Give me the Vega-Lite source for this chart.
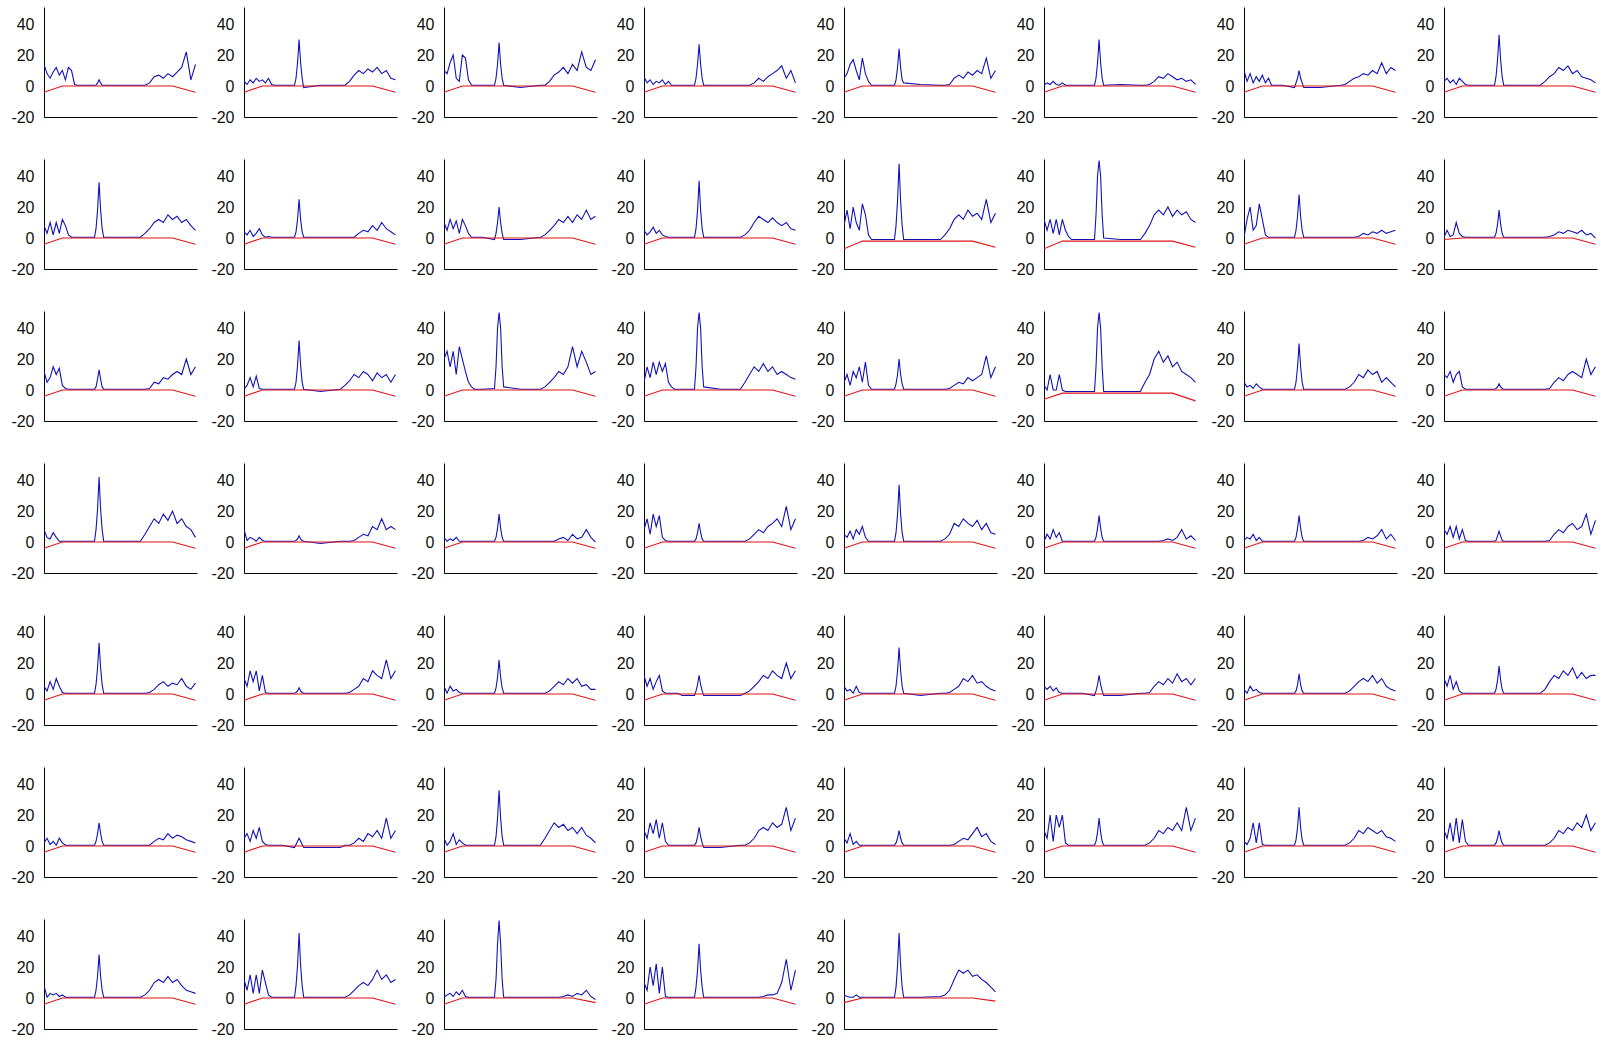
{
"$schema": "https://vega.github.io/schema/vega-lite/v6.json",
"background": "white",
"padding": {"left": 10, "top": 7, "right": 5, "bottom": 5},
"data": {"values": [
{"p":1,"x":0,"b":14,"r":-4},{"p":1,"x":2,"b":8},{"p":1,"x":4,"b":5},{"p":1,"x":6,"b":9},{"p":1,"x":8,"b":12},{"p":1,"x":10,"b":7},{"p":1,"x":12,"b":10,"r":0},{"p":1,"x":14,"b":4},{"p":1,"x":16,"b":12},{"p":1,"x":18,"b":10},{"p":1,"x":20,"b":1},{"p":1,"x":22,"b":0.5},{"p":1,"x":25,"b":0.5},{"p":1,"x":33,"b":0.5},{"p":1,"x":34,"b":0.5},{"p":1,"x":35,"b":2},{"p":1,"x":36,"b":4},{"p":1,"x":37,"b":2},{"p":1,"x":38,"b":0.5},{"p":1,"x":39,"b":0.5},{"p":1,"x":50,"b":0.5},{"p":1,"x":63,"b":0.5},{"p":1,"x":66,"b":0.5},{"p":1,"x":69,"b":2},{"p":1,"x":72,"b":6},{"p":1,"x":75,"b":7},{"p":1,"x":78,"b":5},{"p":1,"x":81,"b":8},{"p":1,"x":84,"b":6,"r":0},{"p":1,"x":87,"b":9},{"p":1,"x":90,"b":12},{"p":1,"x":93,"b":22},{"p":1,"x":96,"b":4},{"p":1,"x":99,"b":14,"r":-4},
{"p":2,"x":0,"b":3,"r":-4},{"p":2,"x":2,"b":1},{"p":2,"x":4,"b":4},{"p":2,"x":6,"b":2},{"p":2,"x":8,"b":5},{"p":2,"x":10,"b":3},{"p":2,"x":12,"b":4,"r":0},{"p":2,"x":14,"b":2},{"p":2,"x":16,"b":5},{"p":2,"x":18,"b":1},{"p":2,"x":20,"b":0.5},{"p":2,"x":22,"b":0.5},{"p":2,"x":25,"b":0.5},{"p":2,"x":33,"b":0.5},{"p":2,"x":34,"b":5},{"p":2,"x":35,"b":15},{"p":2,"x":36,"b":30},{"p":2,"x":37,"b":15},{"p":2,"x":38,"b":5},{"p":2,"x":39,"b":-1},{"p":2,"x":50,"b":0.5},{"p":2,"x":63,"b":0.5},{"p":2,"x":66,"b":0.5},{"p":2,"x":69,"b":3},{"p":2,"x":72,"b":7},{"p":2,"x":75,"b":10},{"p":2,"x":78,"b":8},{"p":2,"x":81,"b":11},{"p":2,"x":84,"b":9,"r":0},{"p":2,"x":87,"b":12},{"p":2,"x":90,"b":8},{"p":2,"x":93,"b":10},{"p":2,"x":96,"b":5},{"p":2,"x":99,"b":4,"r":-4},
{"p":3,"x":0,"b":10,"r":-4},{"p":3,"x":2,"b":8},{"p":3,"x":4,"b":15},{"p":3,"x":6,"b":20},{"p":3,"x":8,"b":5},{"p":3,"x":10,"b":3},{"p":3,"x":12,"b":20,"r":0},{"p":3,"x":14,"b":18},{"p":3,"x":16,"b":4},{"p":3,"x":18,"b":0.5},{"p":3,"x":20,"b":0.5},{"p":3,"x":22,"b":0.5},{"p":3,"x":25,"b":0.5},{"p":3,"x":33,"b":0.5},{"p":3,"x":34,"b":5},{"p":3,"x":35,"b":14},{"p":3,"x":36,"b":28},{"p":3,"x":37,"b":14},{"p":3,"x":38,"b":5},{"p":3,"x":39,"b":0.5},{"p":3,"x":50,"b":-1},{"p":3,"x":63,"b":0.5},{"p":3,"x":66,"b":0.5},{"p":3,"x":69,"b":3},{"p":3,"x":72,"b":7},{"p":3,"x":75,"b":9},{"p":3,"x":78,"b":12},{"p":3,"x":81,"b":8},{"p":3,"x":84,"b":14,"r":0},{"p":3,"x":87,"b":10},{"p":3,"x":90,"b":22},{"p":3,"x":93,"b":12},{"p":3,"x":96,"b":10},{"p":3,"x":99,"b":17,"r":-4},
{"p":4,"x":0,"b":6,"r":-4},{"p":4,"x":2,"b":2},{"p":4,"x":4,"b":4},{"p":4,"x":6,"b":1},{"p":4,"x":8,"b":3},{"p":4,"x":10,"b":2},{"p":4,"x":12,"b":4,"r":0},{"p":4,"x":14,"b":1},{"p":4,"x":16,"b":3},{"p":4,"x":18,"b":0.5},{"p":4,"x":20,"b":0.5},{"p":4,"x":22,"b":0.5},{"p":4,"x":25,"b":0.5},{"p":4,"x":33,"b":0.5},{"p":4,"x":34,"b":5},{"p":4,"x":35,"b":14},{"p":4,"x":36,"b":27},{"p":4,"x":37,"b":14},{"p":4,"x":38,"b":5},{"p":4,"x":39,"b":0.5},{"p":4,"x":50,"b":0.5},{"p":4,"x":63,"b":0.5},{"p":4,"x":66,"b":0.5},{"p":4,"x":69,"b":0.5},{"p":4,"x":72,"b":2},{"p":4,"x":75,"b":5},{"p":4,"x":78,"b":3},{"p":4,"x":81,"b":6},{"p":4,"x":84,"b":8,"r":0},{"p":4,"x":87,"b":10},{"p":4,"x":90,"b":13},{"p":4,"x":93,"b":5},{"p":4,"x":96,"b":10},{"p":4,"x":99,"b":2,"r":-4},
{"p":5,"x":0,"b":5,"r":-4},{"p":5,"x":2,"b":8},{"p":5,"x":4,"b":14},{"p":5,"x":6,"b":17},{"p":5,"x":8,"b":10},{"p":5,"x":10,"b":4},{"p":5,"x":12,"b":18,"r":0},{"p":5,"x":14,"b":8},{"p":5,"x":16,"b":3},{"p":5,"x":18,"b":0.5},{"p":5,"x":20,"b":0.5},{"p":5,"x":22,"b":0.5},{"p":5,"x":25,"b":0.5},{"p":5,"x":33,"b":0.5},{"p":5,"x":34,"b":4},{"p":5,"x":35,"b":12},{"p":5,"x":36,"b":24},{"p":5,"x":37,"b":12},{"p":5,"x":38,"b":4},{"p":5,"x":39,"b":2},{"p":5,"x":50,"b":1},{"p":5,"x":63,"b":0.5},{"p":5,"x":66,"b":0.5},{"p":5,"x":69,"b":1},{"p":5,"x":72,"b":5},{"p":5,"x":75,"b":7},{"p":5,"x":78,"b":5},{"p":5,"x":81,"b":9},{"p":5,"x":84,"b":7,"r":0},{"p":5,"x":87,"b":10},{"p":5,"x":90,"b":8},{"p":5,"x":93,"b":18},{"p":5,"x":96,"b":5},{"p":5,"x":99,"b":10,"r":-4},
{"p":6,"x":0,"b":0.5,"r":-4},{"p":6,"x":2,"b":2},{"p":6,"x":4,"b":1},{"p":6,"x":6,"b":3},{"p":6,"x":8,"b":1},{"p":6,"x":10,"b":0.5},{"p":6,"x":12,"b":2,"r":0},{"p":6,"x":14,"b":0.5},{"p":6,"x":16,"b":0.5},{"p":6,"x":18,"b":0.5},{"p":6,"x":20,"b":0.5},{"p":6,"x":22,"b":0.5},{"p":6,"x":25,"b":0.5},{"p":6,"x":33,"b":0.5},{"p":6,"x":34,"b":5},{"p":6,"x":35,"b":15},{"p":6,"x":36,"b":30},{"p":6,"x":37,"b":15},{"p":6,"x":38,"b":5},{"p":6,"x":39,"b":0.5},{"p":6,"x":50,"b":1},{"p":6,"x":63,"b":0.5},{"p":6,"x":66,"b":0.5},{"p":6,"x":69,"b":1},{"p":6,"x":72,"b":3},{"p":6,"x":75,"b":6},{"p":6,"x":78,"b":5},{"p":6,"x":81,"b":8},{"p":6,"x":84,"b":6,"r":0},{"p":6,"x":87,"b":4},{"p":6,"x":90,"b":5},{"p":6,"x":93,"b":3},{"p":6,"x":96,"b":4},{"p":6,"x":99,"b":1,"r":-4},
{"p":7,"x":0,"b":10,"r":-4},{"p":7,"x":2,"b":3},{"p":7,"x":4,"b":8},{"p":7,"x":6,"b":2},{"p":7,"x":8,"b":6},{"p":7,"x":10,"b":3},{"p":7,"x":12,"b":7,"r":0},{"p":7,"x":14,"b":2},{"p":7,"x":16,"b":5},{"p":7,"x":18,"b":0.5},{"p":7,"x":20,"b":0.5},{"p":7,"x":22,"b":0.5},{"p":7,"x":25,"b":0.5},{"p":7,"x":33,"b":-1},{"p":7,"x":34,"b":2},{"p":7,"x":35,"b":5},{"p":7,"x":36,"b":10},{"p":7,"x":37,"b":5},{"p":7,"x":38,"b":2},{"p":7,"x":39,"b":-1},{"p":7,"x":50,"b":-1},{"p":7,"x":63,"b":0.5},{"p":7,"x":66,"b":1},{"p":7,"x":69,"b":3},{"p":7,"x":72,"b":5},{"p":7,"x":75,"b":6},{"p":7,"x":78,"b":8},{"p":7,"x":81,"b":7},{"p":7,"x":84,"b":10,"r":0},{"p":7,"x":87,"b":8},{"p":7,"x":90,"b":15},{"p":7,"x":93,"b":8},{"p":7,"x":96,"b":12},{"p":7,"x":99,"b":10,"r":-4},
{"p":8,"x":0,"b":3,"r":-4},{"p":8,"x":2,"b":5},{"p":8,"x":4,"b":2},{"p":8,"x":6,"b":4},{"p":8,"x":8,"b":1},{"p":8,"x":10,"b":5},{"p":8,"x":12,"b":3,"r":0},{"p":8,"x":14,"b":1},{"p":8,"x":16,"b":0.5},{"p":8,"x":18,"b":0.5},{"p":8,"x":20,"b":0.5},{"p":8,"x":22,"b":0.5},{"p":8,"x":25,"b":0.5},{"p":8,"x":33,"b":0.5},{"p":8,"x":34,"b":6},{"p":8,"x":35,"b":17},{"p":8,"x":36,"b":33},{"p":8,"x":37,"b":17},{"p":8,"x":38,"b":6},{"p":8,"x":39,"b":0.5},{"p":8,"x":50,"b":0.5},{"p":8,"x":63,"b":0.5},{"p":8,"x":66,"b":3},{"p":8,"x":69,"b":6},{"p":8,"x":72,"b":8},{"p":8,"x":75,"b":12},{"p":8,"x":78,"b":10},{"p":8,"x":81,"b":13},{"p":8,"x":84,"b":8,"r":0},{"p":8,"x":87,"b":10},{"p":8,"x":90,"b":6},{"p":8,"x":93,"b":5},{"p":8,"x":96,"b":4},{"p":8,"x":99,"b":2,"r":-4},
{"p":9,"x":0,"b":8,"r":-4},{"p":9,"x":2,"b":3},{"p":9,"x":4,"b":10},{"p":9,"x":6,"b":2},{"p":9,"x":8,"b":10},{"p":9,"x":10,"b":3},{"p":9,"x":12,"b":12,"r":0},{"p":9,"x":14,"b":8},{"p":9,"x":16,"b":2},{"p":9,"x":18,"b":0.5},{"p":9,"x":20,"b":0.5},{"p":9,"x":22,"b":0.5},{"p":9,"x":25,"b":0.5},{"p":9,"x":33,"b":0.5},{"p":9,"x":34,"b":6},{"p":9,"x":35,"b":18},{"p":9,"x":36,"b":36},{"p":9,"x":37,"b":18},{"p":9,"x":38,"b":6},{"p":9,"x":39,"b":0.5},{"p":9,"x":50,"b":0.5},{"p":9,"x":63,"b":0.5},{"p":9,"x":66,"b":3},{"p":9,"x":69,"b":6},{"p":9,"x":72,"b":10},{"p":9,"x":75,"b":12},{"p":9,"x":78,"b":10},{"p":9,"x":81,"b":15},{"p":9,"x":84,"b":12,"r":0},{"p":9,"x":87,"b":14},{"p":9,"x":90,"b":10},{"p":9,"x":93,"b":12},{"p":9,"x":96,"b":8},{"p":9,"x":99,"b":5,"r":-4},
{"p":10,"x":0,"b":4,"r":-4},{"p":10,"x":2,"b":2},{"p":10,"x":4,"b":5},{"p":10,"x":6,"b":1},{"p":10,"x":8,"b":3},{"p":10,"x":10,"b":6},{"p":10,"x":12,"b":2,"r":0},{"p":10,"x":14,"b":0.5},{"p":10,"x":16,"b":1},{"p":10,"x":18,"b":0.5},{"p":10,"x":20,"b":0.5},{"p":10,"x":22,"b":0.5},{"p":10,"x":25,"b":0.5},{"p":10,"x":33,"b":0.5},{"p":10,"x":34,"b":4},{"p":10,"x":35,"b":12},{"p":10,"x":36,"b":25},{"p":10,"x":37,"b":12},{"p":10,"x":38,"b":4},{"p":10,"x":39,"b":0.5},{"p":10,"x":50,"b":0.5},{"p":10,"x":63,"b":0.5},{"p":10,"x":66,"b":0.5},{"p":10,"x":69,"b":0.5},{"p":10,"x":72,"b":0.5},{"p":10,"x":75,"b":3},{"p":10,"x":78,"b":5},{"p":10,"x":81,"b":4},{"p":10,"x":84,"b":8,"r":0},{"p":10,"x":87,"b":5},{"p":10,"x":90,"b":10},{"p":10,"x":93,"b":6},{"p":10,"x":96,"b":4},{"p":10,"x":99,"b":2,"r":-4},
{"p":11,"x":0,"b":10,"r":-4},{"p":11,"x":2,"b":5},{"p":11,"x":4,"b":12},{"p":11,"x":6,"b":6},{"p":11,"x":8,"b":11},{"p":11,"x":10,"b":3},{"p":11,"x":12,"b":12,"r":0},{"p":11,"x":14,"b":8},{"p":11,"x":16,"b":3},{"p":11,"x":18,"b":0.5},{"p":11,"x":20,"b":0.5},{"p":11,"x":22,"b":0.5},{"p":11,"x":25,"b":0.5},{"p":11,"x":33,"b":-1},{"p":11,"x":34,"b":3},{"p":11,"x":35,"b":10},{"p":11,"x":36,"b":20},{"p":11,"x":37,"b":10},{"p":11,"x":38,"b":3},{"p":11,"x":39,"b":-1},{"p":11,"x":50,"b":-1},{"p":11,"x":63,"b":0.5},{"p":11,"x":66,"b":2},{"p":11,"x":69,"b":5},{"p":11,"x":72,"b":8},{"p":11,"x":75,"b":12},{"p":11,"x":78,"b":10},{"p":11,"x":81,"b":14},{"p":11,"x":84,"b":10,"r":0},{"p":11,"x":87,"b":15},{"p":11,"x":90,"b":12},{"p":11,"x":93,"b":18},{"p":11,"x":96,"b":12},{"p":11,"x":99,"b":14,"r":-4},
{"p":12,"x":0,"b":5,"r":-4},{"p":12,"x":2,"b":2},{"p":12,"x":4,"b":4},{"p":12,"x":6,"b":7},{"p":12,"x":8,"b":3},{"p":12,"x":10,"b":5},{"p":12,"x":12,"b":2,"r":0},{"p":12,"x":14,"b":1},{"p":12,"x":16,"b":0.5},{"p":12,"x":18,"b":0.5},{"p":12,"x":20,"b":0.5},{"p":12,"x":22,"b":0.5},{"p":12,"x":25,"b":0.5},{"p":12,"x":33,"b":0.5},{"p":12,"x":34,"b":6},{"p":12,"x":35,"b":18},{"p":12,"x":36,"b":37},{"p":12,"x":37,"b":18},{"p":12,"x":38,"b":6},{"p":12,"x":39,"b":0.5},{"p":12,"x":50,"b":0.5},{"p":12,"x":63,"b":0.5},{"p":12,"x":66,"b":2},{"p":12,"x":69,"b":5},{"p":12,"x":72,"b":10},{"p":12,"x":75,"b":14},{"p":12,"x":78,"b":12},{"p":12,"x":81,"b":10},{"p":12,"x":84,"b":13,"r":0},{"p":12,"x":87,"b":10},{"p":12,"x":90,"b":8},{"p":12,"x":93,"b":10},{"p":12,"x":96,"b":6},{"p":12,"x":99,"b":5,"r":-4},
{"p":13,"x":0,"b":8,"r":-7},{"p":13,"x":2,"b":18},{"p":13,"x":4,"b":6},{"p":13,"x":6,"b":20},{"p":13,"x":8,"b":10},{"p":13,"x":10,"b":5},{"p":13,"x":12,"b":22,"r":-2},{"p":13,"x":14,"b":15},{"p":13,"x":16,"b":2},{"p":13,"x":18,"b":-1},{"p":13,"x":20,"b":-1},{"p":13,"x":22,"b":-1},{"p":13,"x":25,"b":-1},{"p":13,"x":33,"b":-1},{"p":13,"x":34,"b":8},{"p":13,"x":35,"b":24},{"p":13,"x":36,"b":48},{"p":13,"x":37,"b":24},{"p":13,"x":38,"b":8},{"p":13,"x":39,"b":-1},{"p":13,"x":50,"b":-1},{"p":13,"x":63,"b":-1},{"p":13,"x":66,"b":2},{"p":13,"x":69,"b":6},{"p":13,"x":72,"b":12},{"p":13,"x":75,"b":15},{"p":13,"x":78,"b":12},{"p":13,"x":81,"b":18},{"p":13,"x":84,"b":14,"r":-2},{"p":13,"x":87,"b":16},{"p":13,"x":90,"b":12},{"p":13,"x":93,"b":25},{"p":13,"x":96,"b":10},{"p":13,"x":99,"b":16,"r":-6},
{"p":14,"x":0,"b":12,"r":-7},{"p":14,"x":2,"b":5},{"p":14,"x":4,"b":12},{"p":14,"x":6,"b":3},{"p":14,"x":8,"b":12},{"p":14,"x":10,"b":2},{"p":14,"x":12,"b":12,"r":-2},{"p":14,"x":14,"b":5},{"p":14,"x":16,"b":1},{"p":14,"x":18,"b":-1},{"p":14,"x":20,"b":-1},{"p":14,"x":22,"b":-1},{"p":14,"x":25,"b":-1},{"p":14,"x":33,"b":-1},{"p":14,"x":34,"b":15},{"p":14,"x":35,"b":40},{"p":14,"x":36,"b":50},{"p":14,"x":37,"b":40},{"p":14,"x":38,"b":15},{"p":14,"x":39,"b":0},{"p":14,"x":50,"b":-1},{"p":14,"x":63,"b":-1},{"p":14,"x":66,"b":3},{"p":14,"x":69,"b":8},{"p":14,"x":72,"b":15},{"p":14,"x":75,"b":18},{"p":14,"x":78,"b":15},{"p":14,"x":81,"b":20},{"p":14,"x":84,"b":14,"r":-2},{"p":14,"x":87,"b":18},{"p":14,"x":90,"b":15},{"p":14,"x":93,"b":17},{"p":14,"x":96,"b":12},{"p":14,"x":99,"b":10,"r":-6},
{"p":15,"x":0,"b":0.5,"r":-4},{"p":15,"x":2,"b":12},{"p":15,"x":4,"b":20},{"p":15,"x":6,"b":5},{"p":15,"x":8,"b":8},{"p":15,"x":10,"b":22},{"p":15,"x":12,"b":12,"r":0},{"p":15,"x":14,"b":2},{"p":15,"x":16,"b":0.5},{"p":15,"x":18,"b":0.5},{"p":15,"x":20,"b":0.5},{"p":15,"x":22,"b":0.5},{"p":15,"x":25,"b":0.5},{"p":15,"x":33,"b":0.5},{"p":15,"x":34,"b":5},{"p":15,"x":35,"b":14},{"p":15,"x":36,"b":28},{"p":15,"x":37,"b":14},{"p":15,"x":38,"b":5},{"p":15,"x":39,"b":0.5},{"p":15,"x":50,"b":0.5},{"p":15,"x":63,"b":0.5},{"p":15,"x":66,"b":0.5},{"p":15,"x":69,"b":0.5},{"p":15,"x":72,"b":0.5},{"p":15,"x":75,"b":1},{"p":15,"x":78,"b":3},{"p":15,"x":81,"b":2},{"p":15,"x":84,"b":4,"r":0},{"p":15,"x":87,"b":3},{"p":15,"x":90,"b":5},{"p":15,"x":93,"b":3},{"p":15,"x":96,"b":4},{"p":15,"x":99,"b":5,"r":-4},
{"p":16,"x":0,"b":0.5,"r":-1},{"p":16,"x":2,"b":5},{"p":16,"x":4,"b":1},{"p":16,"x":6,"b":2},{"p":16,"x":8,"b":10},{"p":16,"x":10,"b":3},{"p":16,"x":12,"b":1,"r":0},{"p":16,"x":14,"b":0.5},{"p":16,"x":16,"b":0.5},{"p":16,"x":18,"b":0.5},{"p":16,"x":20,"b":0.5},{"p":16,"x":22,"b":0.5},{"p":16,"x":25,"b":0.5},{"p":16,"x":33,"b":0.5},{"p":16,"x":34,"b":3},{"p":16,"x":35,"b":9},{"p":16,"x":36,"b":18},{"p":16,"x":37,"b":9},{"p":16,"x":38,"b":3},{"p":16,"x":39,"b":0.5},{"p":16,"x":50,"b":0.5},{"p":16,"x":63,"b":0.5},{"p":16,"x":66,"b":0.5},{"p":16,"x":69,"b":1},{"p":16,"x":72,"b":2},{"p":16,"x":75,"b":4},{"p":16,"x":78,"b":3},{"p":16,"x":81,"b":5},{"p":16,"x":84,"b":4,"r":0},{"p":16,"x":87,"b":3},{"p":16,"x":90,"b":5},{"p":16,"x":93,"b":2},{"p":16,"x":96,"b":3},{"p":16,"x":99,"b":0,"r":-4},
{"p":17,"x":0,"b":12,"r":-4},{"p":17,"x":2,"b":5},{"p":17,"x":4,"b":8},{"p":17,"x":6,"b":15},{"p":17,"x":8,"b":10},{"p":17,"x":10,"b":14},{"p":17,"x":12,"b":3,"r":0},{"p":17,"x":14,"b":1},{"p":17,"x":16,"b":0.5},{"p":17,"x":18,"b":0.5},{"p":17,"x":20,"b":0.5},{"p":17,"x":22,"b":0.5},{"p":17,"x":25,"b":0.5},{"p":17,"x":33,"b":0.5},{"p":17,"x":34,"b":2},{"p":17,"x":35,"b":7},{"p":17,"x":36,"b":13},{"p":17,"x":37,"b":7},{"p":17,"x":38,"b":2},{"p":17,"x":39,"b":0.5},{"p":17,"x":50,"b":0.5},{"p":17,"x":63,"b":0.5},{"p":17,"x":66,"b":0.5},{"p":17,"x":69,"b":1},{"p":17,"x":72,"b":5},{"p":17,"x":75,"b":4},{"p":17,"x":78,"b":8},{"p":17,"x":81,"b":7},{"p":17,"x":84,"b":10,"r":0},{"p":17,"x":87,"b":12},{"p":17,"x":90,"b":10},{"p":17,"x":93,"b":20},{"p":17,"x":96,"b":10},{"p":17,"x":99,"b":15,"r":-4},
{"p":18,"x":0,"b":0.5,"r":-4},{"p":18,"x":2,"b":3},{"p":18,"x":4,"b":8},{"p":18,"x":6,"b":2},{"p":18,"x":8,"b":9},{"p":18,"x":10,"b":1},{"p":18,"x":12,"b":0.5,"r":0},{"p":18,"x":14,"b":0.5},{"p":18,"x":16,"b":0.5},{"p":18,"x":18,"b":0.5},{"p":18,"x":20,"b":0.5},{"p":18,"x":22,"b":0.5},{"p":18,"x":25,"b":0.5},{"p":18,"x":33,"b":0.5},{"p":18,"x":34,"b":5},{"p":18,"x":35,"b":16},{"p":18,"x":36,"b":32},{"p":18,"x":37,"b":16},{"p":18,"x":38,"b":5},{"p":18,"x":39,"b":0.5},{"p":18,"x":50,"b":-1},{"p":18,"x":63,"b":0.5},{"p":18,"x":66,"b":3},{"p":18,"x":69,"b":6},{"p":18,"x":72,"b":10},{"p":18,"x":75,"b":8},{"p":18,"x":78,"b":12},{"p":18,"x":81,"b":10},{"p":18,"x":84,"b":6,"r":0},{"p":18,"x":87,"b":11},{"p":18,"x":90,"b":8},{"p":18,"x":93,"b":10},{"p":18,"x":96,"b":5},{"p":18,"x":99,"b":10,"r":-4},
{"p":19,"x":0,"b":20,"r":-4},{"p":19,"x":2,"b":25},{"p":19,"x":4,"b":15},{"p":19,"x":6,"b":25},{"p":19,"x":8,"b":10},{"p":19,"x":10,"b":28},{"p":19,"x":12,"b":20,"r":0},{"p":19,"x":14,"b":12},{"p":19,"x":16,"b":5},{"p":19,"x":18,"b":2},{"p":19,"x":20,"b":0.5},{"p":19,"x":22,"b":0.5},{"p":19,"x":25,"b":0.5},{"p":19,"x":33,"b":1},{"p":19,"x":34,"b":15},{"p":19,"x":35,"b":40},{"p":19,"x":36,"b":50},{"p":19,"x":37,"b":40},{"p":19,"x":38,"b":15},{"p":19,"x":39,"b":2},{"p":19,"x":50,"b":0.5},{"p":19,"x":63,"b":0.5},{"p":19,"x":66,"b":2},{"p":19,"x":69,"b":5},{"p":19,"x":72,"b":8},{"p":19,"x":75,"b":12},{"p":19,"x":78,"b":10},{"p":19,"x":81,"b":15},{"p":19,"x":84,"b":28,"r":0},{"p":19,"x":87,"b":15},{"p":19,"x":90,"b":25},{"p":19,"x":93,"b":18},{"p":19,"x":96,"b":10},{"p":19,"x":99,"b":12,"r":-4},
{"p":20,"x":0,"b":5,"r":-4},{"p":20,"x":2,"b":15},{"p":20,"x":4,"b":8},{"p":20,"x":6,"b":18},{"p":20,"x":8,"b":10},{"p":20,"x":10,"b":18},{"p":20,"x":12,"b":12,"r":0},{"p":20,"x":14,"b":17},{"p":20,"x":16,"b":5},{"p":20,"x":18,"b":2},{"p":20,"x":20,"b":0.5},{"p":20,"x":22,"b":0.5},{"p":20,"x":25,"b":0.5},{"p":20,"x":33,"b":0.5},{"p":20,"x":34,"b":15},{"p":20,"x":35,"b":40},{"p":20,"x":36,"b":50},{"p":20,"x":37,"b":40},{"p":20,"x":38,"b":15},{"p":20,"x":39,"b":2},{"p":20,"x":50,"b":0.5},{"p":20,"x":63,"b":0.5},{"p":20,"x":66,"b":5},{"p":20,"x":69,"b":10},{"p":20,"x":72,"b":15},{"p":20,"x":75,"b":12},{"p":20,"x":78,"b":17},{"p":20,"x":81,"b":12},{"p":20,"x":84,"b":15,"r":0},{"p":20,"x":87,"b":10},{"p":20,"x":90,"b":12},{"p":20,"x":93,"b":10},{"p":20,"x":96,"b":8},{"p":20,"x":99,"b":7,"r":-4},
{"p":21,"x":0,"b":5,"r":-4},{"p":21,"x":2,"b":10},{"p":21,"x":4,"b":3},{"p":21,"x":6,"b":12},{"p":21,"x":8,"b":8},{"p":21,"x":10,"b":15},{"p":21,"x":12,"b":5,"r":0},{"p":21,"x":14,"b":18},{"p":21,"x":16,"b":3},{"p":21,"x":18,"b":0.5},{"p":21,"x":20,"b":0.5},{"p":21,"x":22,"b":0.5},{"p":21,"x":25,"b":0.5},{"p":21,"x":33,"b":0.5},{"p":21,"x":34,"b":4},{"p":21,"x":35,"b":10},{"p":21,"x":36,"b":20},{"p":21,"x":37,"b":10},{"p":21,"x":38,"b":4},{"p":21,"x":39,"b":0.5},{"p":21,"x":50,"b":0.5},{"p":21,"x":63,"b":0.5},{"p":21,"x":66,"b":0.5},{"p":21,"x":69,"b":1},{"p":21,"x":72,"b":3},{"p":21,"x":75,"b":5},{"p":21,"x":78,"b":4},{"p":21,"x":81,"b":8},{"p":21,"x":84,"b":6,"r":0},{"p":21,"x":87,"b":8},{"p":21,"x":90,"b":10},{"p":21,"x":93,"b":22},{"p":21,"x":96,"b":8},{"p":21,"x":99,"b":15,"r":-4},
{"p":22,"x":0,"b":3,"r":-6},{"p":22,"x":2,"b":0},{"p":22,"x":4,"b":10},{"p":22,"x":6,"b":0},{"p":22,"x":8,"b":0},{"p":22,"x":10,"b":10},{"p":22,"x":12,"b":0,"r":-2},{"p":22,"x":14,"b":-1},{"p":22,"x":16,"b":-1},{"p":22,"x":18,"b":-1},{"p":22,"x":20,"b":-1},{"p":22,"x":22,"b":-1},{"p":22,"x":25,"b":-1},{"p":22,"x":33,"b":-1},{"p":22,"x":34,"b":15},{"p":22,"x":35,"b":40},{"p":22,"x":36,"b":50},{"p":22,"x":37,"b":40},{"p":22,"x":38,"b":15},{"p":22,"x":39,"b":-1},{"p":22,"x":50,"b":-1},{"p":22,"x":63,"b":-1},{"p":22,"x":66,"b":5},{"p":22,"x":69,"b":10},{"p":22,"x":72,"b":20},{"p":22,"x":75,"b":25},{"p":22,"x":78,"b":18},{"p":22,"x":81,"b":22},{"p":22,"x":84,"b":15,"r":-2},{"p":22,"x":87,"b":18},{"p":22,"x":90,"b":12},{"p":22,"x":93,"b":10},{"p":22,"x":96,"b":8},{"p":22,"x":99,"b":5,"r":-7},
{"p":23,"x":0,"b":5,"r":-4},{"p":23,"x":2,"b":2},{"p":23,"x":4,"b":3},{"p":23,"x":6,"b":1},{"p":23,"x":8,"b":4},{"p":23,"x":10,"b":2},{"p":23,"x":12,"b":0.5,"r":0},{"p":23,"x":14,"b":0.5},{"p":23,"x":16,"b":0.5},{"p":23,"x":18,"b":0.5},{"p":23,"x":20,"b":0.5},{"p":23,"x":22,"b":0.5},{"p":23,"x":25,"b":0.5},{"p":23,"x":33,"b":0.5},{"p":23,"x":34,"b":5},{"p":23,"x":35,"b":15},{"p":23,"x":36,"b":30},{"p":23,"x":37,"b":15},{"p":23,"x":38,"b":5},{"p":23,"x":39,"b":0.5},{"p":23,"x":50,"b":0.5},{"p":23,"x":63,"b":0.5},{"p":23,"x":66,"b":0.5},{"p":23,"x":69,"b":2},{"p":23,"x":72,"b":5},{"p":23,"x":75,"b":10},{"p":23,"x":78,"b":8},{"p":23,"x":81,"b":13},{"p":23,"x":84,"b":10,"r":0},{"p":23,"x":87,"b":12},{"p":23,"x":90,"b":5},{"p":23,"x":93,"b":8},{"p":23,"x":96,"b":5},{"p":23,"x":99,"b":2,"r":-4},
{"p":24,"x":0,"b":10,"r":-4},{"p":24,"x":2,"b":8},{"p":24,"x":4,"b":12},{"p":24,"x":6,"b":5},{"p":24,"x":8,"b":10},{"p":24,"x":10,"b":12},{"p":24,"x":12,"b":2,"r":0},{"p":24,"x":14,"b":0.5},{"p":24,"x":16,"b":0.5},{"p":24,"x":18,"b":0.5},{"p":24,"x":20,"b":0.5},{"p":24,"x":22,"b":0.5},{"p":24,"x":25,"b":0.5},{"p":24,"x":33,"b":0.5},{"p":24,"x":34,"b":1},{"p":24,"x":35,"b":2},{"p":24,"x":36,"b":4},{"p":24,"x":37,"b":2},{"p":24,"x":38,"b":1},{"p":24,"x":39,"b":0.5},{"p":24,"x":50,"b":0.5},{"p":24,"x":63,"b":0.5},{"p":24,"x":66,"b":0.5},{"p":24,"x":69,"b":1},{"p":24,"x":72,"b":5},{"p":24,"x":75,"b":8},{"p":24,"x":78,"b":6},{"p":24,"x":81,"b":10},{"p":24,"x":84,"b":12,"r":0},{"p":24,"x":87,"b":10},{"p":24,"x":90,"b":8},{"p":24,"x":93,"b":20},{"p":24,"x":96,"b":10},{"p":24,"x":99,"b":15,"r":-4},
{"p":25,"x":0,"b":8,"r":-4},{"p":25,"x":2,"b":3},{"p":25,"x":4,"b":2},{"p":25,"x":6,"b":6},{"p":25,"x":8,"b":3},{"p":25,"x":10,"b":0.5},{"p":25,"x":12,"b":0.5,"r":0},{"p":25,"x":14,"b":0.5},{"p":25,"x":16,"b":0.5},{"p":25,"x":18,"b":0.5},{"p":25,"x":20,"b":0.5},{"p":25,"x":22,"b":0.5},{"p":25,"x":25,"b":0.5},{"p":25,"x":33,"b":0.5},{"p":25,"x":34,"b":8},{"p":25,"x":35,"b":21},{"p":25,"x":36,"b":42},{"p":25,"x":37,"b":21},{"p":25,"x":38,"b":8},{"p":25,"x":39,"b":0.5},{"p":25,"x":50,"b":0.5},{"p":25,"x":63,"b":0.5},{"p":25,"x":66,"b":5},{"p":25,"x":69,"b":10},{"p":25,"x":72,"b":15},{"p":25,"x":75,"b":12},{"p":25,"x":78,"b":18},{"p":25,"x":81,"b":14},{"p":25,"x":84,"b":20,"r":0},{"p":25,"x":87,"b":12},{"p":25,"x":90,"b":15},{"p":25,"x":93,"b":10},{"p":25,"x":96,"b":8},{"p":25,"x":99,"b":3,"r":-4},
{"p":26,"x":0,"b":8,"r":-4},{"p":26,"x":2,"b":1},{"p":26,"x":4,"b":3},{"p":26,"x":6,"b":2},{"p":26,"x":8,"b":0.5},{"p":26,"x":10,"b":3},{"p":26,"x":12,"b":1,"r":0},{"p":26,"x":14,"b":0.5},{"p":26,"x":16,"b":0.5},{"p":26,"x":18,"b":0.5},{"p":26,"x":20,"b":0.5},{"p":26,"x":22,"b":0.5},{"p":26,"x":25,"b":0.5},{"p":26,"x":33,"b":0.5},{"p":26,"x":34,"b":1},{"p":26,"x":35,"b":2},{"p":26,"x":36,"b":4},{"p":26,"x":37,"b":2},{"p":26,"x":38,"b":1},{"p":26,"x":39,"b":0.5},{"p":26,"x":50,"b":-1},{"p":26,"x":63,"b":0.5},{"p":26,"x":66,"b":0.5},{"p":26,"x":69,"b":0.5},{"p":26,"x":72,"b":1},{"p":26,"x":75,"b":3},{"p":26,"x":78,"b":5},{"p":26,"x":81,"b":4},{"p":26,"x":84,"b":10,"r":0},{"p":26,"x":87,"b":8},{"p":26,"x":90,"b":15},{"p":26,"x":93,"b":8},{"p":26,"x":96,"b":10},{"p":26,"x":99,"b":8,"r":-4},
{"p":27,"x":0,"b":3,"r":-4},{"p":27,"x":2,"b":0.5},{"p":27,"x":4,"b":2},{"p":27,"x":6,"b":1},{"p":27,"x":8,"b":3},{"p":27,"x":10,"b":0.5},{"p":27,"x":12,"b":0.5,"r":0},{"p":27,"x":14,"b":0.5},{"p":27,"x":16,"b":0.5},{"p":27,"x":18,"b":0.5},{"p":27,"x":20,"b":0.5},{"p":27,"x":22,"b":0.5},{"p":27,"x":25,"b":0.5},{"p":27,"x":33,"b":0.5},{"p":27,"x":34,"b":3},{"p":27,"x":35,"b":9},{"p":27,"x":36,"b":18},{"p":27,"x":37,"b":9},{"p":27,"x":38,"b":3},{"p":27,"x":39,"b":0.5},{"p":27,"x":50,"b":0.5},{"p":27,"x":63,"b":0.5},{"p":27,"x":66,"b":0.5},{"p":27,"x":69,"b":0.5},{"p":27,"x":72,"b":0.5},{"p":27,"x":75,"b":2},{"p":27,"x":78,"b":3},{"p":27,"x":81,"b":1},{"p":27,"x":84,"b":5,"r":0},{"p":27,"x":87,"b":2},{"p":27,"x":90,"b":3},{"p":27,"x":93,"b":8},{"p":27,"x":96,"b":3},{"p":27,"x":99,"b":0,"r":-4},
{"p":28,"x":0,"b":8,"r":-4},{"p":28,"x":2,"b":15},{"p":28,"x":4,"b":5},{"p":28,"x":6,"b":18},{"p":28,"x":8,"b":10},{"p":28,"x":10,"b":17},{"p":28,"x":12,"b":3,"r":0},{"p":28,"x":14,"b":1},{"p":28,"x":16,"b":0.5},{"p":28,"x":18,"b":0.5},{"p":28,"x":20,"b":0.5},{"p":28,"x":22,"b":0.5},{"p":28,"x":25,"b":0.5},{"p":28,"x":33,"b":0.5},{"p":28,"x":34,"b":2},{"p":28,"x":35,"b":6},{"p":28,"x":36,"b":12},{"p":28,"x":37,"b":6},{"p":28,"x":38,"b":2},{"p":28,"x":39,"b":0.5},{"p":28,"x":50,"b":0.5},{"p":28,"x":63,"b":0.5},{"p":28,"x":66,"b":0.5},{"p":28,"x":69,"b":2},{"p":28,"x":72,"b":5},{"p":28,"x":75,"b":8},{"p":28,"x":78,"b":6},{"p":28,"x":81,"b":10},{"p":28,"x":84,"b":12,"r":0},{"p":28,"x":87,"b":15},{"p":28,"x":90,"b":10},{"p":28,"x":93,"b":23},{"p":28,"x":96,"b":8},{"p":28,"x":99,"b":15,"r":-4},
{"p":29,"x":0,"b":5,"r":-4},{"p":29,"x":2,"b":3},{"p":29,"x":4,"b":7},{"p":29,"x":6,"b":2},{"p":29,"x":8,"b":8},{"p":29,"x":10,"b":5},{"p":29,"x":12,"b":10,"r":0},{"p":29,"x":14,"b":3},{"p":29,"x":16,"b":0.5},{"p":29,"x":18,"b":0.5},{"p":29,"x":20,"b":0.5},{"p":29,"x":22,"b":0.5},{"p":29,"x":25,"b":0.5},{"p":29,"x":33,"b":0.5},{"p":29,"x":34,"b":6},{"p":29,"x":35,"b":18},{"p":29,"x":36,"b":37},{"p":29,"x":37,"b":18},{"p":29,"x":38,"b":6},{"p":29,"x":39,"b":0.5},{"p":29,"x":50,"b":0.5},{"p":29,"x":63,"b":0.5},{"p":29,"x":66,"b":2},{"p":29,"x":69,"b":5},{"p":29,"x":72,"b":12},{"p":29,"x":75,"b":10},{"p":29,"x":78,"b":15},{"p":29,"x":81,"b":12},{"p":29,"x":84,"b":10,"r":0},{"p":29,"x":87,"b":14},{"p":29,"x":90,"b":8},{"p":29,"x":93,"b":12},{"p":29,"x":96,"b":6},{"p":29,"x":99,"b":5,"r":-4},
{"p":30,"x":0,"b":0.5,"r":-4},{"p":30,"x":2,"b":5},{"p":30,"x":4,"b":2},{"p":30,"x":6,"b":8},{"p":30,"x":8,"b":3},{"p":30,"x":10,"b":6},{"p":30,"x":12,"b":0.5,"r":0},{"p":30,"x":14,"b":0.5},{"p":30,"x":16,"b":0.5},{"p":30,"x":18,"b":0.5},{"p":30,"x":20,"b":0.5},{"p":30,"x":22,"b":0.5},{"p":30,"x":25,"b":0.5},{"p":30,"x":33,"b":0.5},{"p":30,"x":34,"b":3},{"p":30,"x":35,"b":9},{"p":30,"x":36,"b":17},{"p":30,"x":37,"b":9},{"p":30,"x":38,"b":3},{"p":30,"x":39,"b":0.5},{"p":30,"x":50,"b":0.5},{"p":30,"x":63,"b":0.5},{"p":30,"x":66,"b":0.5},{"p":30,"x":69,"b":0.5},{"p":30,"x":72,"b":0.5},{"p":30,"x":75,"b":0.5},{"p":30,"x":78,"b":1},{"p":30,"x":81,"b":2},{"p":30,"x":84,"b":1,"r":0},{"p":30,"x":87,"b":3},{"p":30,"x":90,"b":8},{"p":30,"x":93,"b":2},{"p":30,"x":96,"b":4},{"p":30,"x":99,"b":1,"r":-4},
{"p":31,"x":0,"b":1,"r":-4},{"p":31,"x":2,"b":3},{"p":31,"x":4,"b":2},{"p":31,"x":6,"b":5},{"p":31,"x":8,"b":1},{"p":31,"x":10,"b":3},{"p":31,"x":12,"b":0.5,"r":0},{"p":31,"x":14,"b":0.5},{"p":31,"x":16,"b":0.5},{"p":31,"x":18,"b":0.5},{"p":31,"x":20,"b":0.5},{"p":31,"x":22,"b":0.5},{"p":31,"x":25,"b":0.5},{"p":31,"x":33,"b":0.5},{"p":31,"x":34,"b":3},{"p":31,"x":35,"b":9},{"p":31,"x":36,"b":17},{"p":31,"x":37,"b":9},{"p":31,"x":38,"b":3},{"p":31,"x":39,"b":0.5},{"p":31,"x":50,"b":0.5},{"p":31,"x":63,"b":0.5},{"p":31,"x":66,"b":0.5},{"p":31,"x":69,"b":0.5},{"p":31,"x":72,"b":0.5},{"p":31,"x":75,"b":0.5},{"p":31,"x":78,"b":1},{"p":31,"x":81,"b":3},{"p":31,"x":84,"b":2,"r":0},{"p":31,"x":87,"b":4},{"p":31,"x":90,"b":8},{"p":31,"x":93,"b":2},{"p":31,"x":96,"b":5},{"p":31,"x":99,"b":1,"r":-4},
{"p":32,"x":0,"b":8,"r":-4},{"p":32,"x":2,"b":5},{"p":32,"x":4,"b":10},{"p":32,"x":6,"b":3},{"p":32,"x":8,"b":10},{"p":32,"x":10,"b":2},{"p":32,"x":12,"b":8,"r":0},{"p":32,"x":14,"b":1},{"p":32,"x":16,"b":0.5},{"p":32,"x":18,"b":0.5},{"p":32,"x":20,"b":0.5},{"p":32,"x":22,"b":0.5},{"p":32,"x":25,"b":0.5},{"p":32,"x":33,"b":0.5},{"p":32,"x":34,"b":1},{"p":32,"x":35,"b":4},{"p":32,"x":36,"b":7},{"p":32,"x":37,"b":4},{"p":32,"x":38,"b":1},{"p":32,"x":39,"b":0.5},{"p":32,"x":50,"b":0.5},{"p":32,"x":63,"b":0.5},{"p":32,"x":66,"b":0.5},{"p":32,"x":69,"b":1},{"p":32,"x":72,"b":5},{"p":32,"x":75,"b":8},{"p":32,"x":78,"b":6},{"p":32,"x":81,"b":10},{"p":32,"x":84,"b":12,"r":0},{"p":32,"x":87,"b":8},{"p":32,"x":90,"b":10},{"p":32,"x":93,"b":18},{"p":32,"x":96,"b":5},{"p":32,"x":99,"b":14,"r":-4},
{"p":33,"x":0,"b":5,"r":-4},{"p":33,"x":2,"b":2},{"p":33,"x":4,"b":8},{"p":33,"x":6,"b":3},{"p":33,"x":8,"b":10},{"p":33,"x":10,"b":5},{"p":33,"x":12,"b":1,"r":0},{"p":33,"x":14,"b":0.5},{"p":33,"x":16,"b":0.5},{"p":33,"x":18,"b":0.5},{"p":33,"x":20,"b":0.5},{"p":33,"x":22,"b":0.5},{"p":33,"x":25,"b":0.5},{"p":33,"x":33,"b":0.5},{"p":33,"x":34,"b":6},{"p":33,"x":35,"b":17},{"p":33,"x":36,"b":33},{"p":33,"x":37,"b":17},{"p":33,"x":38,"b":6},{"p":33,"x":39,"b":0.5},{"p":33,"x":50,"b":0.5},{"p":33,"x":63,"b":0.5},{"p":33,"x":66,"b":0.5},{"p":33,"x":69,"b":1},{"p":33,"x":72,"b":3},{"p":33,"x":75,"b":6},{"p":33,"x":78,"b":8},{"p":33,"x":81,"b":5},{"p":33,"x":84,"b":7,"r":0},{"p":33,"x":87,"b":6},{"p":33,"x":90,"b":10},{"p":33,"x":93,"b":5},{"p":33,"x":96,"b":3},{"p":33,"x":99,"b":7,"r":-4},
{"p":34,"x":0,"b":10,"r":-4},{"p":34,"x":2,"b":5},{"p":34,"x":4,"b":15},{"p":34,"x":6,"b":8},{"p":34,"x":8,"b":15},{"p":34,"x":10,"b":2},{"p":34,"x":12,"b":12,"r":0},{"p":34,"x":14,"b":1},{"p":34,"x":16,"b":0.5},{"p":34,"x":18,"b":0.5},{"p":34,"x":20,"b":0.5},{"p":34,"x":22,"b":0.5},{"p":34,"x":25,"b":0.5},{"p":34,"x":33,"b":0.5},{"p":34,"x":34,"b":1},{"p":34,"x":35,"b":2},{"p":34,"x":36,"b":4},{"p":34,"x":37,"b":2},{"p":34,"x":38,"b":1},{"p":34,"x":39,"b":0.5},{"p":34,"x":50,"b":0.5},{"p":34,"x":63,"b":0.5},{"p":34,"x":66,"b":0.5},{"p":34,"x":69,"b":1},{"p":34,"x":72,"b":3},{"p":34,"x":75,"b":5},{"p":34,"x":78,"b":10},{"p":34,"x":81,"b":8},{"p":34,"x":84,"b":15,"r":0},{"p":34,"x":87,"b":12},{"p":34,"x":90,"b":10},{"p":34,"x":93,"b":22},{"p":34,"x":96,"b":10},{"p":34,"x":99,"b":15,"r":-4},
{"p":35,"x":0,"b":5,"r":-4},{"p":35,"x":2,"b":0.5},{"p":35,"x":4,"b":5},{"p":35,"x":6,"b":2},{"p":35,"x":8,"b":3},{"p":35,"x":10,"b":1},{"p":35,"x":12,"b":0.5,"r":0},{"p":35,"x":14,"b":0.5},{"p":35,"x":16,"b":0.5},{"p":35,"x":18,"b":0.5},{"p":35,"x":20,"b":0.5},{"p":35,"x":22,"b":0.5},{"p":35,"x":25,"b":0.5},{"p":35,"x":33,"b":0.5},{"p":35,"x":34,"b":4},{"p":35,"x":35,"b":11},{"p":35,"x":36,"b":22},{"p":35,"x":37,"b":11},{"p":35,"x":38,"b":4},{"p":35,"x":39,"b":0.5},{"p":35,"x":50,"b":0.5},{"p":35,"x":63,"b":0.5},{"p":35,"x":66,"b":0.5},{"p":35,"x":69,"b":2},{"p":35,"x":72,"b":5},{"p":35,"x":75,"b":8},{"p":35,"x":78,"b":6},{"p":35,"x":81,"b":10},{"p":35,"x":84,"b":7,"r":0},{"p":35,"x":87,"b":10},{"p":35,"x":90,"b":5},{"p":35,"x":93,"b":6},{"p":35,"x":96,"b":3},{"p":35,"x":99,"b":3,"r":-4},
{"p":36,"x":0,"b":12,"r":-4},{"p":36,"x":2,"b":5},{"p":36,"x":4,"b":10},{"p":36,"x":6,"b":3},{"p":36,"x":8,"b":8},{"p":36,"x":10,"b":12},{"p":36,"x":12,"b":2,"r":0},{"p":36,"x":14,"b":0.5},{"p":36,"x":16,"b":0.5},{"p":36,"x":18,"b":0.5},{"p":36,"x":20,"b":0.5},{"p":36,"x":22,"b":0.5},{"p":36,"x":25,"b":-1},{"p":36,"x":33,"b":-1},{"p":36,"x":34,"b":2},{"p":36,"x":35,"b":6},{"p":36,"x":36,"b":12},{"p":36,"x":37,"b":6},{"p":36,"x":38,"b":2},{"p":36,"x":39,"b":-1},{"p":36,"x":50,"b":-1},{"p":36,"x":63,"b":-1},{"p":36,"x":66,"b":0.5},{"p":36,"x":69,"b":2},{"p":36,"x":72,"b":5},{"p":36,"x":75,"b":8},{"p":36,"x":78,"b":12},{"p":36,"x":81,"b":10},{"p":36,"x":84,"b":15,"r":0},{"p":36,"x":87,"b":12},{"p":36,"x":90,"b":10},{"p":36,"x":93,"b":20},{"p":36,"x":96,"b":10},{"p":36,"x":99,"b":15,"r":-4},
{"p":37,"x":0,"b":5,"r":-4},{"p":37,"x":2,"b":2},{"p":37,"x":4,"b":3},{"p":37,"x":6,"b":0.5},{"p":37,"x":8,"b":5},{"p":37,"x":10,"b":1},{"p":37,"x":12,"b":0.5,"r":0},{"p":37,"x":14,"b":0.5},{"p":37,"x":16,"b":0.5},{"p":37,"x":18,"b":0.5},{"p":37,"x":20,"b":0.5},{"p":37,"x":22,"b":0.5},{"p":37,"x":25,"b":0.5},{"p":37,"x":33,"b":0.5},{"p":37,"x":34,"b":5},{"p":37,"x":35,"b":15},{"p":37,"x":36,"b":30},{"p":37,"x":37,"b":15},{"p":37,"x":38,"b":5},{"p":37,"x":39,"b":0.5},{"p":37,"x":50,"b":-1},{"p":37,"x":63,"b":0.5},{"p":37,"x":66,"b":0.5},{"p":37,"x":69,"b":1},{"p":37,"x":72,"b":3},{"p":37,"x":75,"b":5},{"p":37,"x":78,"b":10},{"p":37,"x":81,"b":8},{"p":37,"x":84,"b":12,"r":0},{"p":37,"x":87,"b":7},{"p":37,"x":90,"b":8},{"p":37,"x":93,"b":5},{"p":37,"x":96,"b":3},{"p":37,"x":99,"b":2,"r":-4},
{"p":38,"x":0,"b":5,"r":-4},{"p":38,"x":2,"b":3},{"p":38,"x":4,"b":5},{"p":38,"x":6,"b":2},{"p":38,"x":8,"b":4},{"p":38,"x":10,"b":1},{"p":38,"x":12,"b":0.5,"r":0},{"p":38,"x":14,"b":0.5},{"p":38,"x":16,"b":0.5},{"p":38,"x":18,"b":0.5},{"p":38,"x":20,"b":0.5},{"p":38,"x":22,"b":0.5},{"p":38,"x":25,"b":0.5},{"p":38,"x":33,"b":-1},{"p":38,"x":34,"b":2},{"p":38,"x":35,"b":6},{"p":38,"x":36,"b":12},{"p":38,"x":37,"b":6},{"p":38,"x":38,"b":2},{"p":38,"x":39,"b":-1},{"p":38,"x":50,"b":-1},{"p":38,"x":63,"b":0.5},{"p":38,"x":66,"b":0.5},{"p":38,"x":69,"b":1},{"p":38,"x":72,"b":5},{"p":38,"x":75,"b":8},{"p":38,"x":78,"b":6},{"p":38,"x":81,"b":10},{"p":38,"x":84,"b":7,"r":0},{"p":38,"x":87,"b":13},{"p":38,"x":90,"b":8},{"p":38,"x":93,"b":10},{"p":38,"x":96,"b":6},{"p":38,"x":99,"b":10,"r":-4},
{"p":39,"x":0,"b":3,"r":-4},{"p":39,"x":2,"b":0.5},{"p":39,"x":4,"b":5},{"p":39,"x":6,"b":2},{"p":39,"x":8,"b":3},{"p":39,"x":10,"b":1},{"p":39,"x":12,"b":0.5,"r":0},{"p":39,"x":14,"b":0.5},{"p":39,"x":16,"b":0.5},{"p":39,"x":18,"b":0.5},{"p":39,"x":20,"b":0.5},{"p":39,"x":22,"b":0.5},{"p":39,"x":25,"b":0.5},{"p":39,"x":33,"b":0.5},{"p":39,"x":34,"b":2},{"p":39,"x":35,"b":6},{"p":39,"x":36,"b":13},{"p":39,"x":37,"b":6},{"p":39,"x":38,"b":2},{"p":39,"x":39,"b":0.5},{"p":39,"x":50,"b":0.5},{"p":39,"x":63,"b":0.5},{"p":39,"x":66,"b":0.5},{"p":39,"x":69,"b":2},{"p":39,"x":72,"b":5},{"p":39,"x":75,"b":8},{"p":39,"x":78,"b":10},{"p":39,"x":81,"b":8},{"p":39,"x":84,"b":12,"r":0},{"p":39,"x":87,"b":7},{"p":39,"x":90,"b":10},{"p":39,"x":93,"b":5},{"p":39,"x":96,"b":3},{"p":39,"x":99,"b":2,"r":-4},
{"p":40,"x":0,"b":10,"r":-4},{"p":40,"x":2,"b":5},{"p":40,"x":4,"b":12},{"p":40,"x":6,"b":3},{"p":40,"x":8,"b":8},{"p":40,"x":10,"b":2},{"p":40,"x":12,"b":0.5,"r":0},{"p":40,"x":14,"b":0.5},{"p":40,"x":16,"b":0.5},{"p":40,"x":18,"b":0.5},{"p":40,"x":20,"b":0.5},{"p":40,"x":22,"b":0.5},{"p":40,"x":25,"b":0.5},{"p":40,"x":33,"b":0.5},{"p":40,"x":34,"b":3},{"p":40,"x":35,"b":9},{"p":40,"x":36,"b":18},{"p":40,"x":37,"b":9},{"p":40,"x":38,"b":3},{"p":40,"x":39,"b":0.5},{"p":40,"x":50,"b":0.5},{"p":40,"x":63,"b":0.5},{"p":40,"x":66,"b":3},{"p":40,"x":69,"b":8},{"p":40,"x":72,"b":12},{"p":40,"x":75,"b":10},{"p":40,"x":78,"b":15},{"p":40,"x":81,"b":12},{"p":40,"x":84,"b":17,"r":0},{"p":40,"x":87,"b":10},{"p":40,"x":90,"b":14},{"p":40,"x":93,"b":10},{"p":40,"x":96,"b":12},{"p":40,"x":99,"b":12,"r":-4},
{"p":41,"x":0,"b":2,"r":-4},{"p":41,"x":2,"b":5},{"p":41,"x":4,"b":1},{"p":41,"x":6,"b":3},{"p":41,"x":8,"b":0.5},{"p":41,"x":10,"b":5},{"p":41,"x":12,"b":2,"r":0},{"p":41,"x":14,"b":0.5},{"p":41,"x":16,"b":0.5},{"p":41,"x":18,"b":0.5},{"p":41,"x":20,"b":0.5},{"p":41,"x":22,"b":0.5},{"p":41,"x":25,"b":0.5},{"p":41,"x":33,"b":0.5},{"p":41,"x":34,"b":3},{"p":41,"x":35,"b":8},{"p":41,"x":36,"b":15},{"p":41,"x":37,"b":8},{"p":41,"x":38,"b":3},{"p":41,"x":39,"b":0.5},{"p":41,"x":50,"b":0.5},{"p":41,"x":63,"b":0.5},{"p":41,"x":66,"b":0.5},{"p":41,"x":69,"b":0.5},{"p":41,"x":72,"b":3},{"p":41,"x":75,"b":5},{"p":41,"x":78,"b":4},{"p":41,"x":81,"b":8},{"p":41,"x":84,"b":5,"r":0},{"p":41,"x":87,"b":7},{"p":41,"x":90,"b":6},{"p":41,"x":93,"b":4},{"p":41,"x":96,"b":3},{"p":41,"x":99,"b":2,"r":-4},
{"p":42,"x":0,"b":5,"r":-4},{"p":42,"x":2,"b":8},{"p":42,"x":4,"b":3},{"p":42,"x":6,"b":10},{"p":42,"x":8,"b":5},{"p":42,"x":10,"b":12},{"p":42,"x":12,"b":3,"r":0},{"p":42,"x":14,"b":1},{"p":42,"x":16,"b":0.5},{"p":42,"x":18,"b":0.5},{"p":42,"x":20,"b":0.5},{"p":42,"x":22,"b":0.5},{"p":42,"x":25,"b":0.5},{"p":42,"x":33,"b":-1},{"p":42,"x":34,"b":1},{"p":42,"x":35,"b":3},{"p":42,"x":36,"b":5},{"p":42,"x":37,"b":3},{"p":42,"x":38,"b":1},{"p":42,"x":39,"b":-1},{"p":42,"x":50,"b":-1},{"p":42,"x":63,"b":-1},{"p":42,"x":66,"b":0.5},{"p":42,"x":69,"b":0.5},{"p":42,"x":72,"b":2},{"p":42,"x":75,"b":5},{"p":42,"x":78,"b":3},{"p":42,"x":81,"b":8},{"p":42,"x":84,"b":6,"r":0},{"p":42,"x":87,"b":10},{"p":42,"x":90,"b":5},{"p":42,"x":93,"b":18},{"p":42,"x":96,"b":5},{"p":42,"x":99,"b":10,"r":-4},
{"p":43,"x":0,"b":5,"r":-4},{"p":43,"x":2,"b":0.5},{"p":43,"x":4,"b":3},{"p":43,"x":6,"b":8},{"p":43,"x":8,"b":1},{"p":43,"x":10,"b":4},{"p":43,"x":12,"b":2,"r":0},{"p":43,"x":14,"b":0.5},{"p":43,"x":16,"b":0.5},{"p":43,"x":18,"b":0.5},{"p":43,"x":20,"b":0.5},{"p":43,"x":22,"b":0.5},{"p":43,"x":25,"b":0.5},{"p":43,"x":33,"b":0.5},{"p":43,"x":34,"b":6},{"p":43,"x":35,"b":18},{"p":43,"x":36,"b":36},{"p":43,"x":37,"b":18},{"p":43,"x":38,"b":6},{"p":43,"x":39,"b":0.5},{"p":43,"x":50,"b":0.5},{"p":43,"x":63,"b":0.5},{"p":43,"x":66,"b":5},{"p":43,"x":69,"b":10},{"p":43,"x":72,"b":15},{"p":43,"x":75,"b":12},{"p":43,"x":78,"b":14},{"p":43,"x":81,"b":10},{"p":43,"x":84,"b":12,"r":0},{"p":43,"x":87,"b":8},{"p":43,"x":90,"b":12},{"p":43,"x":93,"b":7},{"p":43,"x":96,"b":5},{"p":43,"x":99,"b":2,"r":-4},
{"p":44,"x":0,"b":10,"r":-4},{"p":44,"x":2,"b":5},{"p":44,"x":4,"b":15},{"p":44,"x":6,"b":8},{"p":44,"x":8,"b":17},{"p":44,"x":10,"b":5},{"p":44,"x":12,"b":15,"r":0},{"p":44,"x":14,"b":3},{"p":44,"x":16,"b":0.5},{"p":44,"x":18,"b":0.5},{"p":44,"x":20,"b":0.5},{"p":44,"x":22,"b":0.5},{"p":44,"x":25,"b":0.5},{"p":44,"x":33,"b":0.5},{"p":44,"x":34,"b":2},{"p":44,"x":35,"b":6},{"p":44,"x":36,"b":12},{"p":44,"x":37,"b":6},{"p":44,"x":38,"b":2},{"p":44,"x":39,"b":-1},{"p":44,"x":50,"b":-1},{"p":44,"x":63,"b":0.5},{"p":44,"x":66,"b":0.5},{"p":44,"x":69,"b":2},{"p":44,"x":72,"b":5},{"p":44,"x":75,"b":10},{"p":44,"x":78,"b":12},{"p":44,"x":81,"b":10},{"p":44,"x":84,"b":15,"r":0},{"p":44,"x":87,"b":12},{"p":44,"x":90,"b":14},{"p":44,"x":93,"b":25},{"p":44,"x":96,"b":10},{"p":44,"x":99,"b":18,"r":-4},
{"p":45,"x":0,"b":5,"r":-4},{"p":45,"x":2,"b":2},{"p":45,"x":4,"b":8},{"p":45,"x":6,"b":1},{"p":45,"x":8,"b":3},{"p":45,"x":10,"b":0.5},{"p":45,"x":12,"b":0.5,"r":0},{"p":45,"x":14,"b":0.5},{"p":45,"x":16,"b":0.5},{"p":45,"x":18,"b":0.5},{"p":45,"x":20,"b":0.5},{"p":45,"x":22,"b":0.5},{"p":45,"x":25,"b":0.5},{"p":45,"x":33,"b":0.5},{"p":45,"x":34,"b":2},{"p":45,"x":35,"b":5},{"p":45,"x":36,"b":10},{"p":45,"x":37,"b":5},{"p":45,"x":38,"b":2},{"p":45,"x":39,"b":0.5},{"p":45,"x":50,"b":0.5},{"p":45,"x":63,"b":0.5},{"p":45,"x":66,"b":0.5},{"p":45,"x":69,"b":0.5},{"p":45,"x":72,"b":1},{"p":45,"x":75,"b":3},{"p":45,"x":78,"b":5},{"p":45,"x":81,"b":4},{"p":45,"x":84,"b":8,"r":0},{"p":45,"x":87,"b":12},{"p":45,"x":90,"b":6},{"p":45,"x":93,"b":8},{"p":45,"x":96,"b":3},{"p":45,"x":99,"b":1,"r":-4},
{"p":46,"x":0,"b":10,"r":-4},{"p":46,"x":2,"b":5},{"p":46,"x":4,"b":20},{"p":46,"x":6,"b":3},{"p":46,"x":8,"b":20},{"p":46,"x":10,"b":12},{"p":46,"x":12,"b":20,"r":0},{"p":46,"x":14,"b":2},{"p":46,"x":16,"b":0.5},{"p":46,"x":18,"b":0.5},{"p":46,"x":20,"b":0.5},{"p":46,"x":22,"b":0.5},{"p":46,"x":25,"b":0.5},{"p":46,"x":33,"b":0.5},{"p":46,"x":34,"b":3},{"p":46,"x":35,"b":9},{"p":46,"x":36,"b":18},{"p":46,"x":37,"b":9},{"p":46,"x":38,"b":3},{"p":46,"x":39,"b":0.5},{"p":46,"x":50,"b":0.5},{"p":46,"x":63,"b":0.5},{"p":46,"x":66,"b":0.5},{"p":46,"x":69,"b":2},{"p":46,"x":72,"b":5},{"p":46,"x":75,"b":10},{"p":46,"x":78,"b":8},{"p":46,"x":81,"b":12},{"p":46,"x":84,"b":10,"r":0},{"p":46,"x":87,"b":15},{"p":46,"x":90,"b":10},{"p":46,"x":93,"b":25},{"p":46,"x":96,"b":10},{"p":46,"x":99,"b":18,"r":-4},
{"p":47,"x":0,"b":3,"r":-4},{"p":47,"x":2,"b":1},{"p":47,"x":4,"b":5},{"p":47,"x":6,"b":15},{"p":47,"x":8,"b":2},{"p":47,"x":10,"b":15},{"p":47,"x":12,"b":1,"r":0},{"p":47,"x":14,"b":0.5},{"p":47,"x":16,"b":0.5},{"p":47,"x":18,"b":0.5},{"p":47,"x":20,"b":0.5},{"p":47,"x":22,"b":0.5},{"p":47,"x":25,"b":0.5},{"p":47,"x":33,"b":0.5},{"p":47,"x":34,"b":4},{"p":47,"x":35,"b":12},{"p":47,"x":36,"b":25},{"p":47,"x":37,"b":12},{"p":47,"x":38,"b":4},{"p":47,"x":39,"b":0.5},{"p":47,"x":50,"b":0.5},{"p":47,"x":63,"b":0.5},{"p":47,"x":66,"b":0.5},{"p":47,"x":69,"b":2},{"p":47,"x":72,"b":5},{"p":47,"x":75,"b":10},{"p":47,"x":78,"b":8},{"p":47,"x":81,"b":12},{"p":47,"x":84,"b":10,"r":0},{"p":47,"x":87,"b":8},{"p":47,"x":90,"b":10},{"p":47,"x":93,"b":6},{"p":47,"x":96,"b":5},{"p":47,"x":99,"b":3,"r":-4},
{"p":48,"x":0,"b":10,"r":-4},{"p":48,"x":2,"b":5},{"p":48,"x":4,"b":15},{"p":48,"x":6,"b":3},{"p":48,"x":8,"b":18},{"p":48,"x":10,"b":2},{"p":48,"x":12,"b":17,"r":0},{"p":48,"x":14,"b":3},{"p":48,"x":16,"b":0.5},{"p":48,"x":18,"b":0.5},{"p":48,"x":20,"b":0.5},{"p":48,"x":22,"b":0.5},{"p":48,"x":25,"b":0.5},{"p":48,"x":33,"b":0.5},{"p":48,"x":34,"b":2},{"p":48,"x":35,"b":5},{"p":48,"x":36,"b":10},{"p":48,"x":37,"b":5},{"p":48,"x":38,"b":2},{"p":48,"x":39,"b":0.5},{"p":48,"x":50,"b":0.5},{"p":48,"x":63,"b":0.5},{"p":48,"x":66,"b":0.5},{"p":48,"x":69,"b":2},{"p":48,"x":72,"b":5},{"p":48,"x":75,"b":10},{"p":48,"x":78,"b":8},{"p":48,"x":81,"b":12},{"p":48,"x":84,"b":10,"r":0},{"p":48,"x":87,"b":15},{"p":48,"x":90,"b":12},{"p":48,"x":93,"b":20},{"p":48,"x":96,"b":10},{"p":48,"x":99,"b":15,"r":-4},
{"p":49,"x":0,"b":8,"r":-4},{"p":49,"x":2,"b":0.5},{"p":49,"x":4,"b":3},{"p":49,"x":6,"b":2},{"p":49,"x":8,"b":3},{"p":49,"x":10,"b":1},{"p":49,"x":12,"b":2,"r":0},{"p":49,"x":14,"b":0.5},{"p":49,"x":16,"b":0.5},{"p":49,"x":18,"b":0.5},{"p":49,"x":20,"b":0.5},{"p":49,"x":22,"b":0.5},{"p":49,"x":25,"b":0.5},{"p":49,"x":33,"b":0.5},{"p":49,"x":34,"b":5},{"p":49,"x":35,"b":14},{"p":49,"x":36,"b":28},{"p":49,"x":37,"b":14},{"p":49,"x":38,"b":5},{"p":49,"x":39,"b":0.5},{"p":49,"x":50,"b":0.5},{"p":49,"x":63,"b":0.5},{"p":49,"x":66,"b":2},{"p":49,"x":69,"b":5},{"p":49,"x":72,"b":10},{"p":49,"x":75,"b":12},{"p":49,"x":78,"b":10},{"p":49,"x":81,"b":14},{"p":49,"x":84,"b":10,"r":0},{"p":49,"x":87,"b":12},{"p":49,"x":90,"b":8},{"p":49,"x":93,"b":5},{"p":49,"x":96,"b":4},{"p":49,"x":99,"b":3,"r":-4},
{"p":50,"x":0,"b":12,"r":-4},{"p":50,"x":2,"b":5},{"p":50,"x":4,"b":15},{"p":50,"x":6,"b":3},{"p":50,"x":8,"b":15},{"p":50,"x":10,"b":3},{"p":50,"x":12,"b":18,"r":0},{"p":50,"x":14,"b":10},{"p":50,"x":16,"b":2},{"p":50,"x":18,"b":0.5},{"p":50,"x":20,"b":0.5},{"p":50,"x":22,"b":0.5},{"p":50,"x":25,"b":0.5},{"p":50,"x":33,"b":0.5},{"p":50,"x":34,"b":8},{"p":50,"x":35,"b":21},{"p":50,"x":36,"b":42},{"p":50,"x":37,"b":21},{"p":50,"x":38,"b":8},{"p":50,"x":39,"b":0.5},{"p":50,"x":50,"b":0.5},{"p":50,"x":63,"b":0.5},{"p":50,"x":66,"b":0.5},{"p":50,"x":69,"b":2},{"p":50,"x":72,"b":5},{"p":50,"x":75,"b":8},{"p":50,"x":78,"b":10},{"p":50,"x":81,"b":8},{"p":50,"x":84,"b":12,"r":0},{"p":50,"x":87,"b":18},{"p":50,"x":90,"b":12},{"p":50,"x":93,"b":15},{"p":50,"x":96,"b":10},{"p":50,"x":99,"b":12,"r":-4},
{"p":51,"x":0,"b":0.5,"r":-4},{"p":51,"x":2,"b":2},{"p":51,"x":4,"b":3},{"p":51,"x":6,"b":1},{"p":51,"x":8,"b":4},{"p":51,"x":10,"b":2},{"p":51,"x":12,"b":5,"r":0},{"p":51,"x":14,"b":1},{"p":51,"x":16,"b":0.5},{"p":51,"x":18,"b":0.5},{"p":51,"x":20,"b":0.5},{"p":51,"x":22,"b":0.5},{"p":51,"x":25,"b":0.5},{"p":51,"x":33,"b":0.5},{"p":51,"x":34,"b":12},{"p":51,"x":35,"b":35},{"p":51,"x":36,"b":50},{"p":51,"x":37,"b":35},{"p":51,"x":38,"b":12},{"p":51,"x":39,"b":0.5},{"p":51,"x":50,"b":0.5},{"p":51,"x":63,"b":0.5},{"p":51,"x":66,"b":0.5},{"p":51,"x":69,"b":0.5},{"p":51,"x":72,"b":0.5},{"p":51,"x":75,"b":0.5},{"p":51,"x":78,"b":1},{"p":51,"x":81,"b":2},{"p":51,"x":84,"b":1,"r":0},{"p":51,"x":87,"b":3},{"p":51,"x":90,"b":2},{"p":51,"x":93,"b":5},{"p":51,"x":96,"b":1},{"p":51,"x":99,"b":-1,"r":-3},
{"p":52,"x":0,"b":10,"r":-4},{"p":52,"x":2,"b":5},{"p":52,"x":4,"b":20},{"p":52,"x":6,"b":8},{"p":52,"x":8,"b":22},{"p":52,"x":10,"b":3},{"p":52,"x":12,"b":20,"r":0},{"p":52,"x":14,"b":1},{"p":52,"x":16,"b":0.5},{"p":52,"x":18,"b":0.5},{"p":52,"x":20,"b":0.5},{"p":52,"x":22,"b":0.5},{"p":52,"x":25,"b":0.5},{"p":52,"x":33,"b":0.5},{"p":52,"x":34,"b":7},{"p":52,"x":35,"b":18},{"p":52,"x":36,"b":35},{"p":52,"x":37,"b":18},{"p":52,"x":38,"b":7},{"p":52,"x":39,"b":0.5},{"p":52,"x":50,"b":0.5},{"p":52,"x":63,"b":0.5},{"p":52,"x":66,"b":0.5},{"p":52,"x":69,"b":0.5},{"p":52,"x":72,"b":0.5},{"p":52,"x":75,"b":0.5},{"p":52,"x":78,"b":1},{"p":52,"x":81,"b":2},{"p":52,"x":84,"b":2,"r":0},{"p":52,"x":87,"b":3},{"p":52,"x":90,"b":10},{"p":52,"x":93,"b":25},{"p":52,"x":96,"b":5},{"p":52,"x":99,"b":18,"r":-4},
{"p":53,"x":0,"b":2,"r":-3},{"p":53,"x":2,"b":1},{"p":53,"x":4,"b":0.5},{"p":53,"x":6,"b":0.5},{"p":53,"x":8,"b":2},{"p":53,"x":10,"b":0.5},{"p":53,"x":12,"b":0.5,"r":0},{"p":53,"x":14,"b":0.5},{"p":53,"x":16,"b":0.5},{"p":53,"x":18,"b":0.5},{"p":53,"x":20,"b":0.5},{"p":53,"x":22,"b":0.5},{"p":53,"x":25,"b":0.5},{"p":53,"x":33,"b":0.5},{"p":53,"x":34,"b":7},{"p":53,"x":35,"b":21},{"p":53,"x":36,"b":42},{"p":53,"x":37,"b":21},{"p":53,"x":38,"b":7},{"p":53,"x":39,"b":0.5},{"p":53,"x":50,"b":0.5},{"p":53,"x":63,"b":1},{"p":53,"x":66,"b":2},{"p":53,"x":69,"b":5},{"p":53,"x":72,"b":12},{"p":53,"x":75,"b":18},{"p":53,"x":78,"b":16},{"p":53,"x":81,"b":18},{"p":53,"x":84,"b":14,"r":0},{"p":53,"x":87,"b":15},{"p":53,"x":90,"b":12},{"p":53,"x":93,"b":10},{"p":53,"x":96,"b":7},{"p":53,"x":99,"b":4,"r":-2}
]},
"facet": {"field": "p", "type": "ordinal", "title": null, "header": {"labels": false, "title": null, "labelExpr": "''", "labelFontSize": 0, "labelPadding": 0, "titlePadding": 0}},
"columns": 8,
"spacing": {"row": 34, "column": 13},
"resolve": {"axis": {"x": "independent", "y": "independent"}},
"spec": {
  "width": 153,
  "height": 110,
  "layer": [
    {"transform": [{"filter": "isValid(datum.b)"}],
     "mark": {"type": "line", "color": "#1212b8", "strokeWidth": 1.1, "clip": true},
     "encoding": {
       "x": {"field": "x", "type": "quantitative", "scale": {"domain": [0, 100], "nice": false, "zero": false}, "axis": {"labels": false, "ticks": false, "title": null, "grid": false, "domainColor": "#000", "domainWidth": 1}},
       "y": {"field": "b", "type": "quantitative", "scale": {"domain": [-20, 51], "nice": false, "zero": false}, "axis": {"values": [-20, 0, 20, 40], "labelExpr": "'' + datum.value", "title": null, "grid": false, "ticks": false, "labelPadding": 10, "labelFontSize": 16, "labelFont": "Liberation Sans", "labelColor": "#111", "domainColor": "#000", "domainWidth": 1}}
     }},
    {"transform": [{"filter": "isValid(datum.r)"}],
     "mark": {"type": "line", "color": "#e01414", "strokeWidth": 1.1, "clip": true},
     "encoding": {
       "x": {"field": "x", "type": "quantitative", "scale": {"domain": [0, 100], "nice": false, "zero": false}, "axis": {"labels": false, "ticks": false, "title": null, "grid": false, "domainColor": "#000", "domainWidth": 1}},
       "y": {"field": "r", "type": "quantitative", "scale": {"domain": [-20, 51], "nice": false, "zero": false}, "axis": {"values": [-20, 0, 20, 40], "labelExpr": "'' + datum.value", "title": null, "grid": false, "ticks": false, "labelPadding": 10, "labelFontSize": 16, "labelFont": "Liberation Sans", "labelColor": "#111", "domainColor": "#000", "domainWidth": 1}}
     }}
  ]
},
"config": {"view": {"stroke": null}, "header": {"labels": false, "title": null, "labelFontSize": 0, "labelPadding": 0}}
}
